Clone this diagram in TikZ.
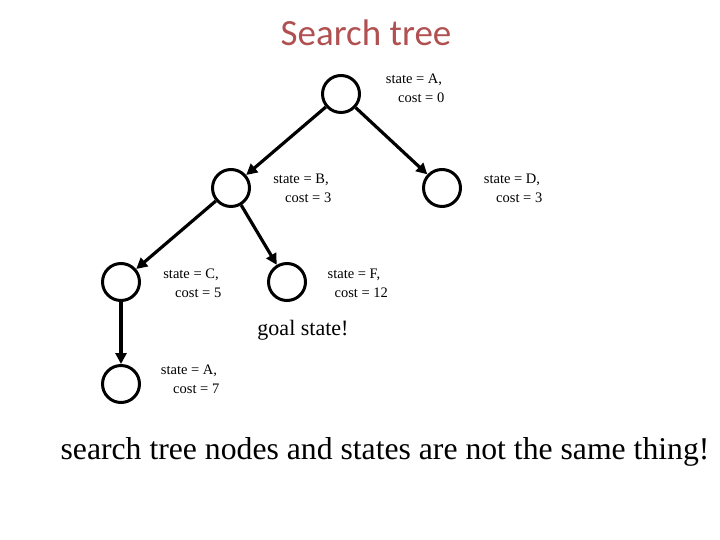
\documentclass[tikz,border=0pt]{standalone}
\usepackage{fontspec}
\setmainfont{Liberation Serif}
\newfontfamily\titlefont{Carlito}
\usetikzlibrary{arrows.meta}
\definecolor{titlered}{RGB}{176,80,80}
\tikzset{
  treenode/.style={circle,draw,line width=3pt,minimum size=37bp,inner sep=0pt},
  edge/.style={line width=3.2pt,-{Triangle[length=11bp,width=11bp]}},
  lbl/.style={font=\fontsize{14.5bp}{19bp}\selectfont,align=center}
}
\begin{document}
\begin{tikzpicture}[x=1bp,y=-1bp]
  \useasboundingbox (0,0) rectangle (720,540);
  \node[text=titlered,font=\titlefont\fontsize{37bp}{40bp}\selectfont] at (366,33) {Search tree};
  \node[treenode] (a) at (341,94) {};
  \node[treenode] (b) at (231,188) {};
  \node[treenode] (d) at (442,188) {};
  \node[treenode] (c) at (121,282) {};
  \node[treenode] (f) at (287,282) {};
  \node[treenode] (a2) at (121,384) {};
  \draw[edge] (a) -- (b);
  \draw[edge] (a) -- (d);
  \draw[edge] (b) -- (c);
  \draw[edge] (b) -- (f);
  \draw[edge] (c) -- (a2);
  \node[lbl] at (414,88) {state = A,\\\quad cost = 0};
  \node[lbl] at (301,188) {state = B,\\\quad cost = 3};
  \node[lbl] at (512,188) {state = D,\\\quad cost = 3};
  \node[lbl] at (191,283) {state = C,\\\quad cost = 5};
  \node[lbl] at (354,283) {state = F,\\\quad cost = 12};
  \node[lbl] at (189,379) {state = A,\\\quad cost = 7};
  \node[font=\fontsize{22bp}{24bp}\selectfont] at (303,330) {goal state!};
  \node[font=\fontsize{31.7bp}{34bp}\selectfont] at (385,452) {search tree nodes and states are not the same thing!};
\end{tikzpicture}
\end{document}
